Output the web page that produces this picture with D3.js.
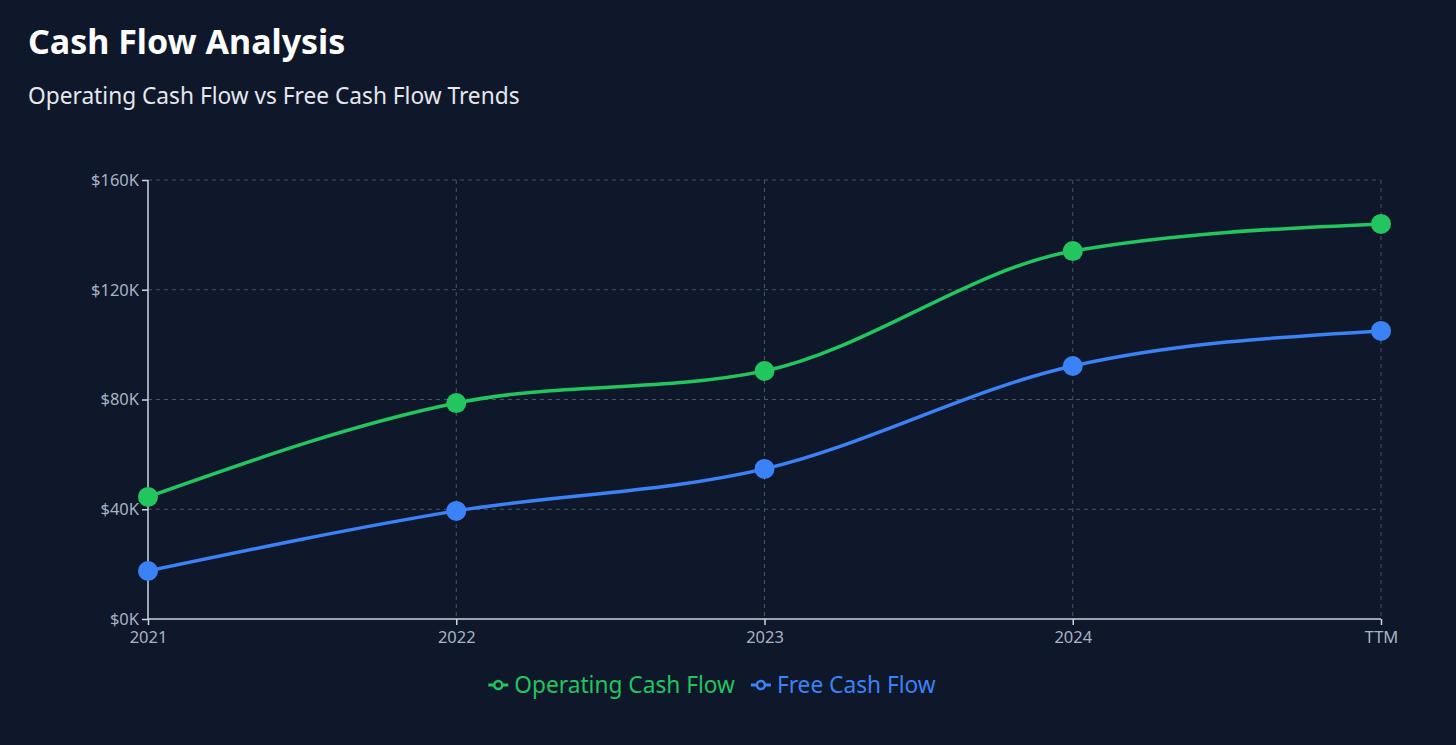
<!DOCTYPE html>
<html><head><meta charset="utf-8">
<script src="https://cdn.jsdelivr.net/npm/d3@7"></script>
<style>
html,body{margin:0;padding:0;background:#0f172a;}
svg{display:block;font-family:"Segoe UI","Noto Sans","Open Sans",sans-serif;}
</style></head>
<body>
<svg id="chart" width="1456" height="745"></svg>
<script>
const categories = ["2021","2022","2023","2024","TTM"];
const operatingCashFlow = [44500, 78700, 90400, 134100, 144000];
const freeCashFlow = [17500, 39400, 54700, 92200, 105000];
const yTicks = [0, 40000, 80000, 120000, 160000];
const seriesNames = ["Operating Cash Flow", "Free Cash Flow"];
const seriesColors = ["#22c55e", "#3b82f6"];

(function(){
const svg = d3.select("#chart");
svg.append("rect").attr("width",1456).attr("height",745).attr("fill","#0f172a");

svg.append("text").attr("x",28).attr("y",54).attr("fill","#ffffff")
  .attr("font-size",34).attr("font-weight",700).text("Cash Flow Analysis");
svg.append("text").attr("x",28).attr("y",104).attr("fill","#e5e7eb")
  .attr("font-size",22.7).text("Operating Cash Flow vs Free Cash Flow Trends");

const pl=148, pr=1381, pt=180, pb=619;
const x = d3.scalePoint().domain(categories).range([pl,pr]);
const y = d3.scaleLinear().domain([0,160000]).range([pb,pt]);

const grid = svg.append("g");
grid.selectAll("line.h").data(yTicks.filter(d=>d>0)).join("line")
  .attr("x1",pl).attr("x2",pr).attr("y1",d=>y(d)).attr("y2",d=>y(d))
  .attr("stroke","#475569").attr("stroke-dasharray","4 4").attr("stroke-width",1);
grid.selectAll("line.v").data(categories.slice(1)).join("line")
  .attr("x1",d=>x(d)).attr("x2",d=>x(d)).attr("y1",pt).attr("y2",pb)
  .attr("stroke","#475569").attr("stroke-dasharray","4 4").attr("stroke-width",1);

const axisColor="#cbd5e1", tickText="#a8b3c4";
const yAxis = svg.append("g").attr("transform",`translate(${pl},0)`)
  .call(d3.axisLeft(y).tickValues(yTicks).tickSize(6).tickPadding(3).tickFormat(d=>`$${d/1000}K`));
const xAxis = svg.append("g").attr("transform",`translate(0,${pb})`)
  .call(d3.axisBottom(x).tickSize(6).tickPadding(3));
[yAxis,xAxis].forEach(a=>{
  a.selectAll("path,line").attr("stroke",axisColor).attr("stroke-width",1.5);
  a.selectAll("text").attr("fill",tickText).attr("font-size",16.5)
   .attr("font-family",'"Segoe UI","Noto Sans","Open Sans",sans-serif');
});
xAxis.select(".domain").attr("d",`M${pl},0H${pr}`);
yAxis.select(".domain").attr("d",`M0,${pt}V${pb}`);
xAxis.selectAll(".tick text").attr("dy","0.9em");

const seriesData=[operatingCashFlow, freeCashFlow];
const line = d3.line().x((d,i)=>x(categories[i])).y(d=>y(d)).curve(d3.curveMonotoneX);
seriesData.forEach((vals,si)=>{
  svg.append("path").datum(vals).attr("d",line).attr("fill","none")
    .attr("stroke",seriesColors[si]).attr("stroke-width",3.5);
  svg.append("g").selectAll("circle").data(vals).join("circle")
    .attr("cx",(d,i)=>x(categories[i])).attr("cy",d=>y(d)).attr("r",10)
    .attr("fill",seriesColors[si]);
});

const legend = svg.append("g");
const fontSize=22.7;
let items=[]; let cx=0;
const tmp = svg.append("text").attr("font-size",fontSize);
seriesNames.forEach((n,i)=>{
  tmp.text(n); const w=tmp.node().getComputedTextLength();
  items.push({n,i,x:cx,w}); cx+= 26 + w + (i<seriesNames.length-1?16:0);
});
tmp.remove();
const startX = 712 - cx/2;
items.forEach(it=>{
  const g=legend.append("g").attr("transform",`translate(${startX+it.x},685)`);
  g.append("line").attr("x1",0).attr("x2",20).attr("y1",0).attr("y2",0)
    .attr("stroke",seriesColors[it.i]).attr("stroke-width",3);
  g.append("circle").attr("cx",10).attr("cy",0).attr("r",4)
    .attr("fill","#0f172a").attr("stroke",seriesColors[it.i]).attr("stroke-width",2.5);
  g.append("text").attr("x",26).attr("y",0).attr("dy","0.35em")
    .attr("font-size",fontSize).attr("fill",seriesColors[it.i]).text(it.n);
});
})();
</script>
</body></html>
